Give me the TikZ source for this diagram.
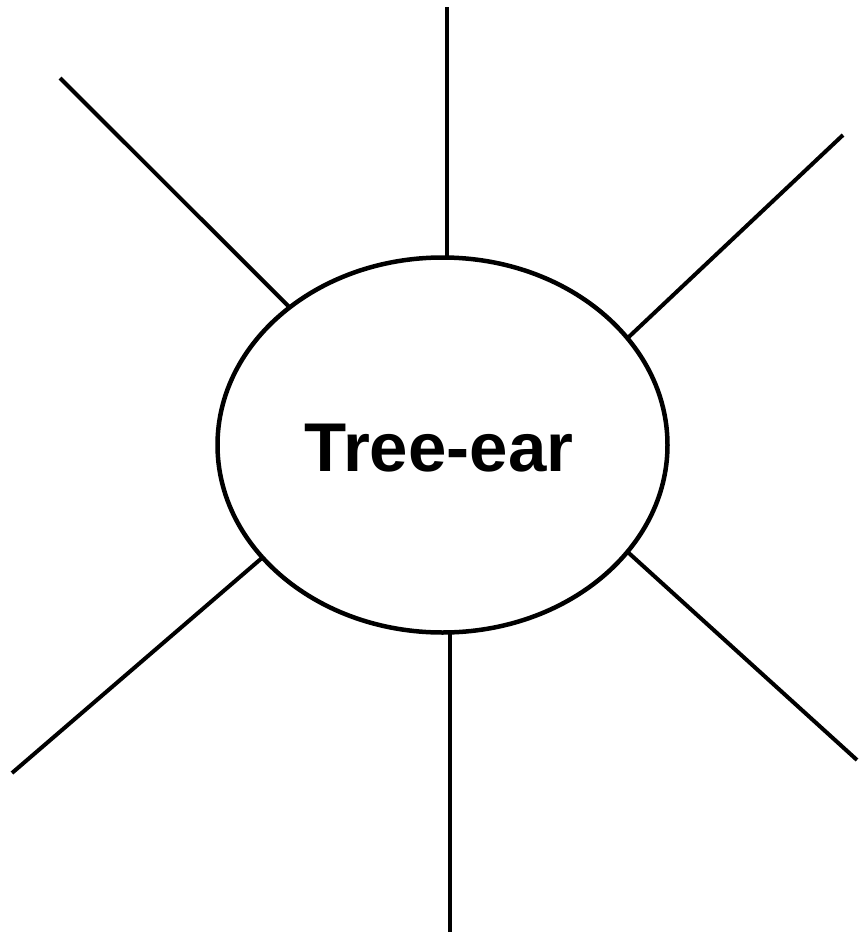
\documentclass[tikz,border=0pt]{standalone}
\usepackage{fontspec}
\setmainfont{Liberation Sans}
\usetikzlibrary{shapes.geometric}

\begin{document}
\begin{tikzpicture}[x=1pt, y=-1pt]
    \useasboundingbox (0,0) rectangle (859,932);
    \tikzset{
        ray/.style={line width=4pt},
        hub/.style={ellipse, draw, line width=4.5pt, minimum width=450pt,
            minimum height=375pt, inner sep=0pt, outer sep=0pt}
    }

    \node[hub] (tree) at (442.5,445) {};
    \node[font=\fontsize{69}{80}\selectfont\bfseries] (label) at (439,448) {Tree-ear};

    \coordinate (endN) at (446.5,7);
    \coordinate (endNW) at (60,78);
    \coordinate (endNE) at (843,135);
    \coordinate (endSW) at (12,773);
    \coordinate (endSE) at (857,760);
    \coordinate (endS) at (449.5,932);

    \draw[ray] (tree.north -| endN) -- (endN);
    \draw[ray] (tree.138.55) -- (endNW);
    \draw[ray] (tree.30.2) -- (endNE);
    \draw[ray] (tree.-148.1) -- (endSW);
    \draw[ray] (tree.-30.5) -- (endSE);
    \draw[ray] (tree.south -| endS) -- (endS);
\end{tikzpicture}
\end{document}
